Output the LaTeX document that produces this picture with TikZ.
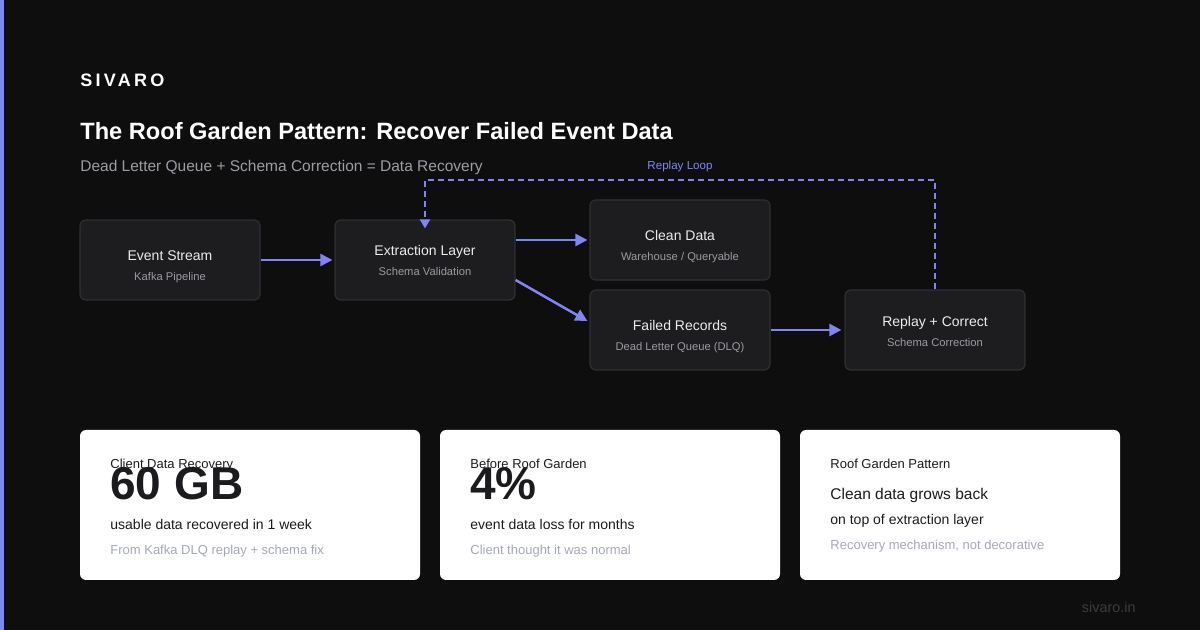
\documentclass[tikz,border=0pt]{standalone}
\usepackage{fontspec}
\setmainfont{Liberation Sans}
\usetikzlibrary{arrows.meta, positioning}

\definecolor{bgdark}{HTML}{0E0E0E}
\definecolor{accent}{HTML}{7F86F4}
\definecolor{boxfill}{HTML}{1D1D20}
\definecolor{boxline}{HTML}{2F2F34}
\definecolor{boxtext}{HTML}{ECECEC}
\definecolor{boxsub}{HTML}{9A9AA2}
\definecolor{subgray}{HTML}{9B9DA5}
\definecolor{cardink}{HTML}{1B1B1E}
\definecolor{notegray}{HTML}{A4A8B6}
\definecolor{footgray}{HTML}{3C3C40}

\begin{document}
\begin{tikzpicture}[
  x=0.5pt, y=-0.5pt,
  every node/.style={inner sep=0pt},
  flowbox/.style={draw=boxline, line width=0.6pt, fill=boxfill, rounded corners=3pt,
                  minimum width=90pt, minimum height=40pt},
  boxhead/.style={anchor=base, text=boxtext, font=\fontsize{7}{8}\selectfont},
  boxnote/.style={anchor=base, text=boxsub, font=\fontsize{5.6}{6.5}\selectfont},
  flow/.style={draw=accent, line width=1.25pt, -{Triangle[length=6pt,width=6pt]}},
  loopline/.style={draw=accent, line width=1pt, dash pattern=on 3pt off 2pt,
                   -{Triangle[length=4.5pt,width=5pt]}},
  card/.style={fill=white, rounded corners=3pt, minimum height=75pt},
  cardlabel/.style={anchor=base west, text=cardink, font=\fontsize{6.5}{7.5}\selectfont},
  bignum/.style={anchor=base west, text=cardink, font=\fontsize{23}{25}\selectfont\bfseries},
  cardline/.style={anchor=base west, text=cardink, font=\fontsize{7}{8}\selectfont},
  cardnote/.style={anchor=base west, text=notegray, font=\fontsize{6.5}{7.5}\selectfont}
]
  % page and accent bar
  \fill[bgdark] (0,0) rectangle (1200,630);
  \useasboundingbox (0,0) rectangle (1200,630);
  \fill[accent] (0,0) rectangle (4,630);

  % heading
  \node[anchor=base west, text=white, font=\fontsize{9}{10}\selectfont\bfseries\addfontfeature{LetterSpace=18}]
    (brand) at (80,87) {SIVARO};
  \node[anchor=base west, text=white, font=\fontsize{11.8}{13}\selectfont\bfseries]
    (title) at (80,140) {The Roof Garden Pattern: Recover Failed Event Data};
  \node[anchor=base west, text=subgray, font=\fontsize{7.75}{9}\selectfont]
    (subtitle) at (80,172) {Dead Letter Queue + Schema Correction = Data Recovery};

  % pipeline boxes
  \node[flowbox] (event)   at (170,260) {};
  \node[flowbox] (extract) at (425,260) {};
  \node[flowbox] (clean)   at (680,240) {};
  \node[flowbox] (failed)  at (680,330) {};
  \node[flowbox] (replay)  at (935,330) {};

  \node[boxhead] (event-head)   at (170,261) {Event Stream};
  \node[boxnote] (event-note)   at (170,281) {Kafka Pipeline};
  \node[boxhead] (extract-head) at (425,256) {Extraction Layer};
  \node[boxnote] (extract-note) at (425,276) {Schema Validation};
  \node[boxhead] (clean-head)   at (680,241) {Clean Data};
  \node[boxnote] (clean-note)   at (680,261) {Warehouse / Queryable};
  \node[boxhead] (failed-head)  at (680,331) {Failed Records};
  \node[boxnote] (failed-note)  at (680,351) {Dead Letter Queue (DLQ)};
  \node[boxhead] (replay-head)  at (935,327) {Replay + Correct};
  \node[boxnote] (replay-note)  at (935,347) {Schema Correction};

  % connectors
  \draw[flow] (event.east) -- ([xshift=-1pt]extract.west);
  \draw[flow] (extract.east |- clean.west) -- ([xshift=-1pt]clean.west);
  \draw[flow] ([yshift=-10pt]extract.east) -- ([xshift=-1pt,yshift=4.5pt]failed.west);
  \draw[flow] (failed.east) -- ([xshift=-1.5pt]replay.west);

  % replay loop
  \coordinate (looptop) at (680,180);
  \draw[loopline] (replay.north) |- (looptop) -| ([yshift=-4.5pt]extract.north);
  \node[anchor=base, text=accent, font=\fontsize{5.8}{7}\selectfont] (looplbl) at (680,170) {Replay Loop};

  % stat cards
  \node[card, minimum width=170pt] (card1) at (250,505) {};
  \node[card, minimum width=170pt] (card2) at (610,505) {};
  \node[card, minimum width=160pt] (card3) at (960,505) {};

  \node[cardlabel] (c1-label) at (110,469) {Client Data Recovery};
  \node[bignum]    (c1-num)   at (110,500) {60 GB};
  \node[cardline]  (c1-text)  at (110,530) {usable data recovered in 1 week};
  \node[cardnote]  (c1-note)  at (110,555) {From Kafka DLQ replay + schema fix};

  \node[cardlabel] (c2-label) at (470,469) {Before Roof Garden};
  \node[bignum]    (c2-num)   at (470,500) {4\%};
  \node[cardline]  (c2-text)  at (470,530) {event data loss for months};
  \node[cardnote]  (c2-note)  at (470,555) {Client thought it was normal};

  \node[cardlabel] (c3-label) at (830,469) {Roof Garden Pattern};
  \node[cardline, font=\fontsize{7.75}{9}\selectfont] (c3-head) at (830,500) {Clean data grows back};
  \node[cardline]  (c3-text)  at (830,525) {on top of extraction layer};
  \node[cardnote]  (c3-note)  at (830,550) {Recovery mechanism, not decorative};

  % footer
  \node[anchor=base east, text=footgray, font=\fontsize{7.2}{8}\selectfont] (site) at (1136,612) {sivaro.in};
\end{tikzpicture}
\end{document}
